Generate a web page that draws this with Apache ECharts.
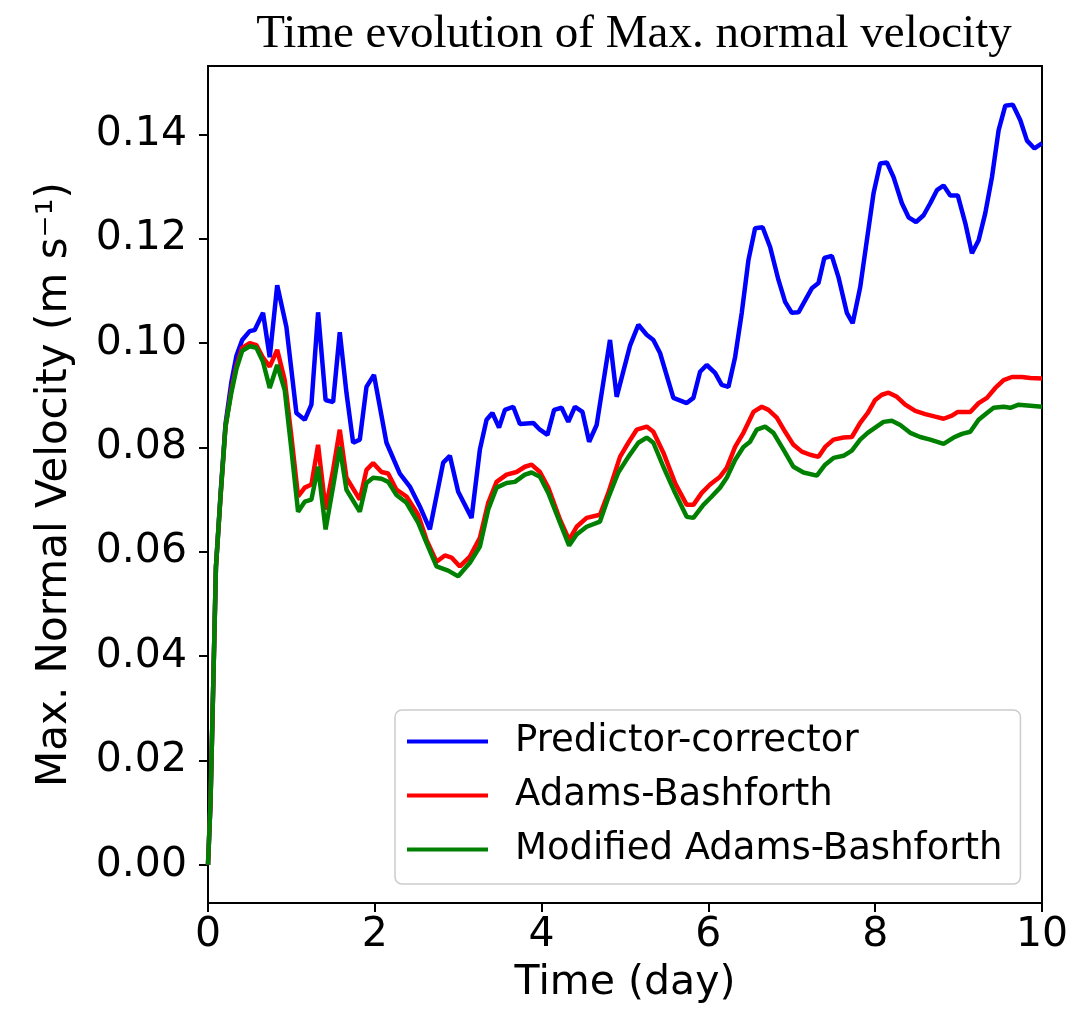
<!DOCTYPE html>
<html>
<head>
<meta charset="utf-8">
<title>Time evolution of Max. normal velocity</title>
<script src="https://cdn.jsdelivr.net/npm/echarts@6/dist/echarts.min.js"></script>
<style>
  html, body { margin: 0; padding: 0; background: #fff; }
  #chart { width: 1092px; height: 1009px; }
</style>
</head>
<body>
<div id="chart"></div>
<script>
// [time (day), max normal velocity (m/s)]
const predictorCorrector = [
  [0, 0], [0.03, 0.012], [0.065, 0.036], [0.095, 0.057], [0.15, 0.071], [0.21, 0.0845],
  [0.28, 0.0925], [0.34, 0.0975], [0.41, 0.1006], [0.50, 0.1023], [0.56, 0.1025], [0.66, 0.1058],
  [0.74, 0.0973], [0.83, 0.1111], [0.94, 0.1031], [1.06, 0.0866], [1.16, 0.0853], [1.24, 0.0882],
  [1.32, 0.1059], [1.41, 0.0891], [1.50, 0.0887], [1.58, 0.1021], [1.66, 0.0905], [1.74, 0.0809],
  [1.82, 0.0815], [1.90, 0.0916], [1.99, 0.0939], [2.14, 0.0809], [2.30, 0.0750], [2.42, 0.0725],
  [2.54, 0.0687], [2.66, 0.0643], [2.82, 0.0771], [2.90, 0.0784], [3.00, 0.0715], [3.16, 0.0665],
  [3.26, 0.0796], [3.34, 0.0853], [3.41, 0.0866], [3.49, 0.0838], [3.56, 0.0872], [3.66, 0.0878],
  [3.74, 0.0845], [3.90, 0.0847], [3.98, 0.0834], [4.07, 0.0824], [4.15, 0.0872], [4.24, 0.0876],
  [4.32, 0.0849], [4.40, 0.0878], [4.49, 0.0868], [4.57, 0.0811], [4.66, 0.0843], [4.82, 0.1006],
  [4.90, 0.0897], [5.06, 0.0995], [5.16, 0.1035], [5.26, 0.1016], [5.34, 0.1006], [5.42, 0.0981],
  [5.58, 0.0895], [5.74, 0.0885], [5.82, 0.0895], [5.90, 0.0945], [5.98, 0.0958], [6.08, 0.0943],
  [6.16, 0.0920], [6.24, 0.0916], [6.32, 0.0973], [6.40, 0.1058], [6.48, 0.1159], [6.56, 0.1220],
  [6.65, 0.1222], [6.74, 0.1184], [6.84, 0.1121], [6.92, 0.1079], [7.00, 0.1058], [7.08, 0.1059],
  [7.16, 0.1082], [7.24, 0.1105], [7.32, 0.1115], [7.39, 0.1163], [7.48, 0.1167], [7.56, 0.1126],
  [7.66, 0.1058], [7.73, 0.1038], [7.82, 0.1107], [7.90, 0.1197], [7.98, 0.1287], [8.06, 0.1344],
  [8.14, 0.1346], [8.22, 0.1318], [8.32, 0.1268], [8.40, 0.1241], [8.49, 0.1232], [8.58, 0.1245],
  [8.66, 0.1268], [8.74, 0.1293], [8.82, 0.1302], [8.90, 0.1283], [8.99, 0.1283], [9.08, 0.1230],
  [9.16, 0.1172], [9.24, 0.1197], [9.32, 0.1249], [9.40, 0.1318], [9.48, 0.1408], [9.56, 0.1455],
  [9.65, 0.1457], [9.74, 0.1427], [9.82, 0.1388], [9.91, 0.1373], [10.0, 0.1383]
];

const adamsBashforth = [
  [0, 0], [0.03, 0.012], [0.065, 0.036], [0.095, 0.057], [0.15, 0.0705], [0.21, 0.084],
  [0.28, 0.091], [0.34, 0.0955], [0.41, 0.0991], [0.50, 0.1000], [0.58, 0.0996], [0.66, 0.0972],
  [0.74, 0.0955], [0.83, 0.0987], [0.92, 0.0929], [1.00, 0.0821], [1.08, 0.0706], [1.16, 0.0723],
  [1.24, 0.0729], [1.32, 0.0805], [1.41, 0.0681], [1.50, 0.0757], [1.58, 0.0834], [1.66, 0.0742],
  [1.82, 0.0700], [1.90, 0.0757], [1.98, 0.0770], [2.08, 0.0753], [2.16, 0.0750], [2.26, 0.0719],
  [2.38, 0.0706], [2.52, 0.0671], [2.62, 0.0623], [2.74, 0.0581], [2.84, 0.0593], [2.92, 0.0589],
  [3.02, 0.0572], [3.14, 0.0591], [3.26, 0.0627], [3.36, 0.0694], [3.46, 0.0734], [3.58, 0.0748],
  [3.70, 0.0753], [3.80, 0.0763], [3.88, 0.0767], [3.98, 0.0753], [4.08, 0.0723], [4.22, 0.0662],
  [4.33, 0.0623], [4.42, 0.0648], [4.54, 0.0665], [4.70, 0.0671], [4.80, 0.0713], [4.94, 0.0782],
  [5.04, 0.0809], [5.14, 0.0834], [5.26, 0.0840], [5.34, 0.0830], [5.46, 0.0790], [5.60, 0.0732],
  [5.74, 0.0690], [5.82, 0.0690], [5.92, 0.0713], [6.02, 0.0729], [6.14, 0.0744], [6.22, 0.0761],
  [6.32, 0.0801], [6.42, 0.0828], [6.54, 0.0868], [6.64, 0.0878], [6.72, 0.0872], [6.82, 0.0857],
  [6.92, 0.0830], [7.02, 0.0805], [7.12, 0.0792], [7.22, 0.0786], [7.32, 0.0782], [7.40, 0.0801],
  [7.50, 0.0815], [7.62, 0.0819], [7.72, 0.0820], [7.82, 0.0847], [7.91, 0.0866], [8.00, 0.0891],
  [8.08, 0.0901], [8.16, 0.0905], [8.26, 0.0897], [8.36, 0.0882], [8.48, 0.0870], [8.60, 0.0864],
  [8.72, 0.0859], [8.82, 0.0855], [8.92, 0.0861], [8.99, 0.0868], [9.14, 0.0868], [9.24, 0.0885],
  [9.34, 0.0895], [9.44, 0.0914], [9.54, 0.0929], [9.64, 0.0935], [9.76, 0.0935], [9.86, 0.0933],
  [10.0, 0.0932]
];

const modifiedAdamsBashforth = [
  [0, 0], [0.03, 0.012], [0.065, 0.036], [0.095, 0.057], [0.15, 0.0705], [0.21, 0.084],
  [0.28, 0.0905], [0.34, 0.095], [0.41, 0.0985], [0.50, 0.0994], [0.58, 0.0991], [0.66, 0.0964],
  [0.74, 0.0914], [0.83, 0.0958], [0.92, 0.0910], [1.00, 0.0796], [1.08, 0.0677], [1.16, 0.0696],
  [1.24, 0.0700], [1.32, 0.0763], [1.41, 0.0643], [1.50, 0.0725], [1.58, 0.0801], [1.66, 0.0719],
  [1.82, 0.0677], [1.90, 0.0732], [1.98, 0.0742], [2.08, 0.0740], [2.16, 0.0734], [2.26, 0.0709],
  [2.38, 0.0694], [2.52, 0.0656], [2.62, 0.0617], [2.74, 0.0572], [2.88, 0.0564], [3.00, 0.0553],
  [3.14, 0.0579], [3.26, 0.0610], [3.36, 0.0681], [3.46, 0.0723], [3.58, 0.0732], [3.68, 0.0734],
  [3.80, 0.0748], [3.88, 0.0752], [3.98, 0.0744], [4.08, 0.0713], [4.22, 0.0656], [4.33, 0.0612],
  [4.42, 0.0633], [4.54, 0.0648], [4.70, 0.0658], [4.80, 0.0704], [4.92, 0.0752], [5.04, 0.0782],
  [5.16, 0.0809], [5.26, 0.0819], [5.34, 0.0809], [5.46, 0.0763], [5.60, 0.0713], [5.74, 0.0667],
  [5.82, 0.0665], [5.94, 0.0690], [6.04, 0.0706], [6.14, 0.0723], [6.22, 0.0742], [6.32, 0.0776],
  [6.42, 0.0801], [6.50, 0.0811], [6.58, 0.0834], [6.68, 0.0840], [6.78, 0.0828], [6.90, 0.0796],
  [7.02, 0.0763], [7.14, 0.0752], [7.30, 0.0746], [7.40, 0.0767], [7.50, 0.0780], [7.62, 0.0784],
  [7.72, 0.0794], [7.82, 0.0815], [7.91, 0.0828], [8.00, 0.0838], [8.10, 0.0849], [8.20, 0.0851],
  [8.30, 0.0843], [8.42, 0.0828], [8.54, 0.0820], [8.66, 0.0815], [8.82, 0.0807], [8.94, 0.0819],
  [9.04, 0.0826], [9.14, 0.0830], [9.24, 0.0853], [9.34, 0.0866], [9.42, 0.0876], [9.54, 0.0878],
  [9.62, 0.0876], [9.72, 0.0882], [9.86, 0.0880], [10.0, 0.0878]
];

const seriesNames = ['Predictor-corrector', 'Adams-Bashforth', 'Modified Adams-Bashforth'];
const seriesColors = ['#0000ff', '#ff0000', '#008000'];
const yTicks = [0, 0.02, 0.04, 0.06, 0.08, 0.10, 0.12, 0.14];
const xTicks = [0, 2, 4, 6, 8, 10];

const sans = 'DejaVu Sans';
const chart = echarts.init(document.getElementById('chart'), null, { renderer: 'canvas' });

const makeLine = (name, data, color) => ({
  name: name,
  type: 'line',
  data: data,
  showSymbol: false,
  smooth: false,
  lineStyle: { color: color, width: 4.5 },
  itemStyle: { color: color },
  emphasis: { disabled: true }
});

const option = {
  animation: false,
  backgroundColor: '#ffffff',
  title: {
    text: 'Time evolution of Max. normal velocity',
    left: 629,
    top: 6,
    textAlign: 'center',
    textStyle: {
      fontFamily: 'Liberation Serif',
      fontSize: 47,
      fontWeight: 'normal',
      color: '#000'
    }
  },
  grid: {
    left: 208,
    right: 50,
    top: 66,
    bottom: 104,
    show: true,
    borderColor: '#000',
    borderWidth: 2,
    backgroundColor: 'transparent'
  },
  legend: {
    orient: 'vertical',
    left: 395,
    top: 710,
    data: seriesNames,
    icon: 'rect',
    itemWidth: 81,
    itemHeight: 4,
    itemGap: 17,
    padding: [13, 18, 16, 12],
    backgroundColor: 'rgba(255,255,255,0.85)',
    borderColor: '#cccccc',
    borderWidth: 1.5,
    borderRadius: 7,
    textStyle: {
      fontFamily: sans,
      fontSize: 37,
      lineHeight: 37,
      color: '#000',
      padding: [0, 0, 0, 22]
    }
  },
  xAxis: {
    type: 'value',
    min: 0,
    max: 10,
    interval: 2,
    name: 'Time (day)',
    nameLocation: 'middle',
    nameGap: 60,
    nameTextStyle: { fontFamily: sans, fontSize: 41, color: '#000' },
    axisLine: { show: true, onZero: false, lineStyle: { color: '#000', width: 2 } },
    axisTick: { show: true, inside: false, length: 9, lineStyle: { color: '#000', width: 2 } },
    axisLabel: {
      fontFamily: sans,
      fontSize: 41,
      color: '#000',
      margin: 12,
      customValues: xTicks
    },
    splitLine: { show: false }
  },
  yAxis: {
    type: 'value',
    min: -0.0073,
    max: 0.1531,
    name: 'Max. Normal Velocity (m s\u207B\u00B9)',
    nameLocation: 'middle',
    nameGap: 132,
    nameRotate: 90,
    nameTextStyle: { fontFamily: sans, fontSize: 42, color: '#000' },
    axisLine: { show: true, onZero: false, lineStyle: { color: '#000', width: 2 } },
    axisTick: {
      show: true,
      inside: false,
      length: 9,
      lineStyle: { color: '#000', width: 2 },
      customValues: yTicks
    },
    axisLabel: {
      fontFamily: sans,
      fontSize: 41,
      color: '#000',
      margin: 21,
      customValues: yTicks,
      formatter: (v) => v.toFixed(2)
    },
    splitLine: { show: false }
  },
  series: [
    makeLine(seriesNames[0], predictorCorrector, seriesColors[0]),
    makeLine(seriesNames[1], adamsBashforth, seriesColors[1]),
    makeLine(seriesNames[2], modifiedAdamsBashforth, seriesColors[2])
  ]
};

chart.setOption(option);
</script>
</body>
</html>
